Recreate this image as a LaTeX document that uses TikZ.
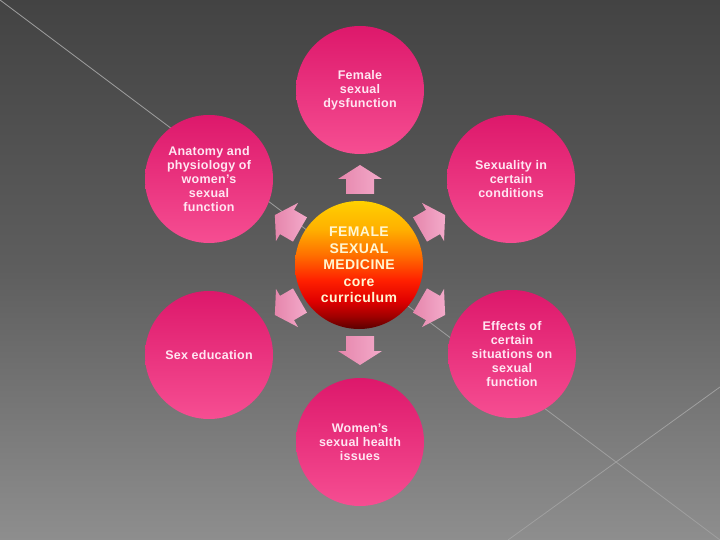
\documentclass[tikz,border=0pt]{standalone}
\usepackage{fontspec}
\setmainfont{Liberation Sans}
\newfontfamily\pinkfont[LetterSpace=2]{Liberation Sans Bold}
\newfontfamily\centfont[LetterSpace=3]{Liberation Sans Bold}
\definecolor{bgtop}{HTML}{434343}
\definecolor{bgmid}{HTML}{5E5E5E}
\definecolor{bgbot}{HTML}{8E8E8E}
\definecolor{bgline}{HTML}{A0A0A0}
\definecolor{pinkT}{HTML}{DD186B}
\definecolor{pinkB}{HTML}{F64E92}
\definecolor{pinktext}{HTML}{FFE6F2}
\definecolor{arrT}{HTML}{E686AC}
\definecolor{arrB}{HTML}{F3AACA}
\definecolor{ctext}{HTML}{FFF6D2}
\definecolor{cA}{HTML}{5A0000}
\definecolor{cB}{HTML}{A00000}
\definecolor{cC}{HTML}{E00000}
\definecolor{cD}{HTML}{FF2000}
\definecolor{cE}{HTML}{FF7000}
\definecolor{cF}{HTML}{FFB000}
\definecolor{cG}{HTML}{FFD000}
\pgfdeclareverticalshading{fsmshade}{100bp}{color(0bp)=(cA); color(25bp)=(cA); color(30bp)=(cB); color(36bp)=(cC); color(44bp)=(cD); color(54bp)=(cE); color(64bp)=(cF); color(75bp)=(cG); color(100bp)=(cG)}
\pgfdeclareverticalshading{bgshade}{100bp}{color(0bp)=(bgbot); color(25bp)=(bgbot); color(50bp)=(bgmid); color(75bp)=(bgtop); color(100bp)=(bgtop)}
\tikzset{
  pinkc/.style={circle, minimum size=128pt, inner sep=0pt, top color=pinkT, bottom color=pinkB,
    text=pinktext, font=\pinkfont\fontsize{12.5}{14}\selectfont, align=center},
  centc/.style={circle, minimum size=128pt, inner sep=0pt, shading=fsmshade,
    text=ctext, align=center, font=\centfont\fontsize{14}{16.6}\selectfont},
  barrow/.pic={\path[top color=arrT, bottom color=arrB, shading angle=90]
    (-15,-14) -- (0,-14) -- (0,-22) -- (14,0) -- (0,22) -- (0,14) -- (-15,14) -- cycle;},
  bgl/.style={draw=bgline, line width=0.8pt}
}
\begin{document}
\begin{tikzpicture}[x=1pt,y=-1pt]
\shade[shading=bgshade] (0,0) rectangle (720,540);
\useasboundingbox (0,0) rectangle (720,540);
\coordinate (l1a) at (0,0);
\coordinate (l1b) at (720,540);
\coordinate (l2a) at (720,387);
\coordinate (l2b) at (508,540);
\draw[bgl] (l1a) -- (l1b);
\draw[bgl] (l2a) -- (l2b);

\node[centc] (c) at (359,265) {FEMALE\\SEXUAL\\MEDICINE\\core\\curriculum};

\node[pinkc] (n1) at (360,90) {Female\\sexual\\dysfunction};
\node[pinkc] (n2) at (209,179) {Anatomy and\\physiology of\\women’s\\sexual\\function};
\node[pinkc] (n3) at (511,179) {Sexuality in\\certain\\conditions};
\node[pinkc] (n4) at (209,355) {Sex education};
\node[pinkc] (n5) at (512,354) {Effects of\\certain\\situations on\\sexual\\function};
\node[pinkc] (n6) at (360,442) {Women’s\\sexual health\\issues};

\pic[rotate=90] at (360,179) {barrow};
\pic[rotate=30] at (433,222) {barrow};
\pic[rotate=150] at (287,222) {barrow};
\pic[rotate=210] at (287,308) {barrow};
\pic[rotate=330] at (433,308) {barrow};
\pic[rotate=270] at (360,351) {barrow};
\end{tikzpicture}
\end{document}
